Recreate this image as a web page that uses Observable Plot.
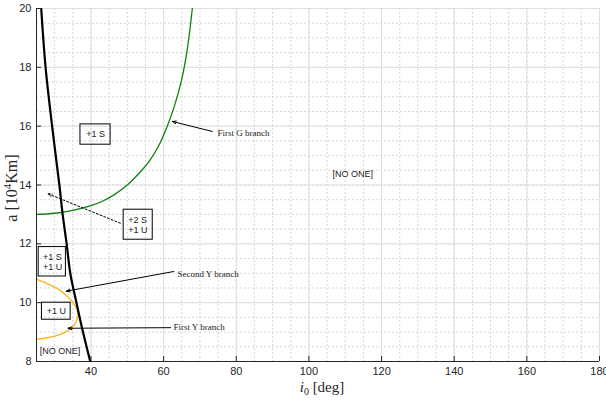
<!DOCTYPE html>
<html>
<head>
<meta charset="utf-8">
<script src="https://cdn.jsdelivr.net/npm/d3@7"></script>
<script src="https://cdn.jsdelivr.net/npm/@observablehq/plot@0.6"></script>
<style>
  html, body { margin: 0; padding: 0; background: white; }
</style>
</head>
<body>
<div id="chart"></div>
<script>
// Axis ticks
const xTicks = [40, 60, 80, 100, 120, 140, 160, 180];
const yTicks = [8, 10, 12, 14, 16, 18, 20];
const xMinor = d3.range(25, 181, 5);
const yMinor = d3.range(8, 20.01, 0.5);

// Black boundary curve (i0 [deg], a [10^4 Km])
const blackI = [26.3, 27.5, 29.3, 31.3, 32.2, 33.3, 34.3, 36.0, 37.8, 39.8];
const blackA = [20, 18, 16, 14, 13, 12, 11, 10, 9, 8];

// First G branch (green)
const greenI = [25, 30, 35, 40, 43, 46, 50, 54, 56, 58.5, 61, 63, 65, 66.5, 67.9];
const greenA = [13.0, 13.04, 13.14, 13.3, 13.44, 13.64, 14.0, 14.5, 14.8, 15.3, 16.0, 16.7, 17.6, 18.6, 20];

// Y branches (orange), traced top to bottom
const orangeI = [25, 28.1, 30.9, 33.6, 35.3, 36.2, 36.4, 36.0, 34.6, 32.7, 30.0, 27.2, 25];
const orangeA = [10.8, 10.64, 10.47, 10.2, 9.96, 9.75, 9.58, 9.36, 9.14, 8.98, 8.86, 8.79, 8.76];

// Boxed region labels
const boxLines = [["+1 S"], ["+2 S", "+1 U"], ["+1 S", "+1 U"], ["+1 U"]];
const boxX1 = [37.1, 49.0, 25.6, 26.5];
const boxX2 = [45.4, 57.0, 33.1, 34.4];
const boxY1 = [16.06, 13.16, 11.89, 10.0];
const boxY2 = [15.37, 12.14, 10.89, 9.42];

// Plain region labels
const noOneText = ["[NO ONE]", "[NO ONE]"];
const noOneI = [25.9, 106.5];
const noOneA = [8.35, 14.37];

// Branch annotations
const branchText = ["First G branch", "Second Y branch", "First Y branch"];
const branchTextI = [74.8, 63.8, 62.7];
const branchTextA = [15.77, 10.98, 9.17];
const arrowI1 = [73.4, 62.8, 61.9];
const arrowA1 = [15.82, 11.06, 9.15];
const arrowI2 = [62.4, 33.2, 33.7];
const arrowA2 = [16.16, 10.39, 9.13];

// Dotted arrow from "+2 S +1 U" box
const dotI1 = [48.1], dotA1 = [12.70], dotI2 = [28.2], dotA2 = [13.70];

const pts = (xs, ys) => xs.map((x, i) => ({x, y: ys[i]}));
const black = pts(blackI, blackA);
const green = pts(greenI, greenA);
const orange = pts(orangeI, orangeA);
const boxes = boxLines.map((t, i) => ({t, x1: boxX1[i], x2: boxX2[i], y1: boxY1[i], y2: boxY2[i]}));
const singleBox = boxes.filter(b => b.t.length === 1).map(b => ({text: b.t[0], x: (b.x1 + b.x2) / 2, y: (b.y1 + b.y2) / 2}));
const multiBox = boxes.filter(b => b.t.length > 1).map(b => ({text: b.t.join("\n"), x: b.x1 + (b.x2 - b.x1) * 0.16, y: (b.y1 + b.y2) / 2}));
const noOne = noOneText.map((t, i) => ({t, x: noOneI[i], y: noOneA[i]}));
const branches = branchText.map((t, i) => ({t, x: branchTextI[i], y: branchTextA[i], x1: arrowI1[i], y1: arrowA1[i], x2: arrowI2[i], y2: arrowA2[i]}));
const dotted = dotI1.map((x, i) => ({x1: x, y1: dotA1[i], x2: dotI2[i], y2: dotA2[i]}));

const sans = "Liberation Sans, Arial, Helvetica, sans-serif";
const serif = "Liberation Serif, Times New Roman, serif";

const chart = Plot.plot({
  width: 606,
  height: 401,
  marginLeft: 36,
  marginRight: 7,
  marginTop: 8,
  marginBottom: 40,
  x: {domain: [25, 180]},
  y: {domain: [8, 20]},
  style: {fontFamily: sans, fontSize: "10px", color: "#262626", background: "white"},
  marks: [
    Plot.gridX(xMinor, {stroke: "#d6d6d6", strokeOpacity: 1, strokeDasharray: "2,2"}),
    Plot.gridY(yMinor, {stroke: "#d6d6d6", strokeOpacity: 1, strokeDasharray: "2,2"}),
    Plot.gridX(xTicks, {stroke: "#dedede", strokeOpacity: 1}),
    Plot.gridY(yTicks, {stroke: "#dedede", strokeOpacity: 1}),
    Plot.line(orange, {x: "x", y: "y", stroke: "#f8b41c", strokeWidth: 1.3, clip: true, curve: "catmull-rom"}),
    Plot.line(green, {x: "x", y: "y", stroke: "#118011", strokeWidth: 1.3, clip: true, curve: "catmull-rom"}),
    Plot.line(black, {x: "x", y: "y", stroke: "#000", strokeWidth: 2.2, clip: true, curve: "catmull-rom"}),
    Plot.rect(boxes, {x1: "x1", x2: "x2", y1: "y1", y2: "y2", fill: "none", stroke: "#000", strokeWidth: 1}),
    Plot.text(singleBox, {x: "x", y: "y", text: "text", textAnchor: "middle", fontSize: 9, fill: "#222", fontFamily: sans}),
    Plot.text(multiBox, {x: "x", y: "y", text: "text", textAnchor: "start", fontSize: 9, lineHeight: 1.15, fill: "#222", fontFamily: sans}),
    Plot.text(noOne, {x: "x", y: "y", text: "t", textAnchor: "start", fontSize: 9, fill: "#222", fontFamily: sans}),
    Plot.text(branches, {x: "x", y: "y", text: "t", textAnchor: "start", fontSize: 9, fill: "#222", fontFamily: serif}),
    Plot.arrow(branches, {x1: "x1", y1: "y1", x2: "x2", y2: "y2", stroke: "#000", strokeWidth: 1, headLength: 6, headAngle: 40}),
    Plot.arrow(dotted, {x1: "x1", y1: "y1", x2: "x2", y2: "y2", stroke: "#000", strokeWidth: 1, strokeDasharray: "2,2", headLength: 6, headAngle: 40}),
    Plot.ruleY([8], {stroke: "#262626"}),
    Plot.ruleX([25], {stroke: "#262626"}),
    Plot.axisX(xTicks, {tickSize: -5, tickPadding: 11, label: null, fontSize: 11, stroke: "#262626"}),
    Plot.axisY(yTicks, {tickSize: -5, tickPadding: 10, label: null, fontSize: 11, stroke: "#262626"})
  ]
});

const svg = d3.select(chart);
// x label: i_0 [deg]
const xl = svg.append("text")
  .attr("x", 322).attr("y", 392)
  .attr("text-anchor", "middle")
  .attr("font-family", serif).attr("font-size", 15).attr("fill", "#262626");
xl.append("tspan").attr("font-style", "italic").text("i");
xl.append("tspan").attr("font-size", 10).attr("dy", 3).text("0");
xl.append("tspan").attr("dy", -3).text(" [deg]");
// y label: a [10^4 Km]
const yl = svg.append("text")
  .attr("transform", "translate(17,188) rotate(-90)")
  .attr("text-anchor", "middle")
  .attr("font-family", serif).attr("font-size", 16).attr("fill", "#262626");
yl.append("tspan").text("a [10");
yl.append("tspan").attr("font-size", 11).attr("dy", -6).text("4");
yl.append("tspan").attr("dy", 6).text("Km]");

document.getElementById("chart").appendChild(chart);
</script>
</body>
</html>
